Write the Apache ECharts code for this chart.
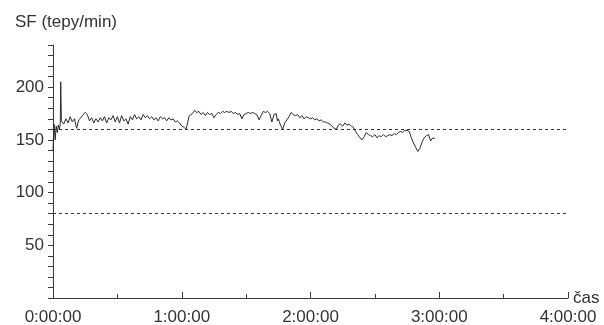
<!DOCTYPE html>
<html>
<head>
<meta charset="utf-8">
<script src="https://cdn.jsdelivr.net/npm/echarts@6/dist/echarts.min.js"></script>
<style>
  html, body { margin: 0; padding: 0; background: #fff; }
  #chart { width: 604px; height: 325px; }
</style>
</head>
<body>
<div id="chart"></div>
<script>
// time in minutes from start, heart rate in beats/min
const minutes = [
  0, 0.5, 1, 1.5, 2, 2.5, 3, 3.4, 3.6, 3.9,
  5, 6, 7, 8, 9, 10, 11, 12, 13, 14, 15, 16, 17, 18, 19, 20,
  21, 22, 23, 24, 25, 26, 27, 28, 29, 30, 31, 32, 33, 34, 35, 36, 37, 38, 39, 40,
  41, 42, 43, 44, 45, 46, 47, 48, 49, 50, 51, 52, 53, 54, 55, 56, 57, 58, 59, 60,
  61, 62, 62.8, 63.5, 64, 65, 66, 67, 68, 69, 70, 71, 72, 73, 74, 75, 76, 77, 78, 79, 80,
  81, 82, 83, 84, 85, 86, 87, 88, 89, 90, 91, 92, 93, 94, 95, 96, 97, 98, 99, 100,
  101, 102, 103, 104, 104.6, 105, 106, 107, 108, 109, 110, 111, 112, 113, 114, 115, 116, 117, 118, 119, 120,
  121, 122, 123, 124, 125, 126, 127, 128, 129, 130, 131, 132, 133, 134, 135, 136, 137, 138, 139, 140,
  141, 142, 143, 144, 145, 146, 147, 148, 149, 150, 151, 152, 153, 154, 155, 156, 157, 158, 159, 160,
  161, 162, 163, 164, 165, 166, 167, 168, 169, 170, 171, 172, 173, 174, 175, 176, 177, 178
]
const heartRate = [
  140, 165, 150, 163, 157, 164, 160, 166, 205, 168,
  165, 170, 166, 172, 167, 170, 161, 169, 171, 174, 176, 174, 168, 171, 166, 170,
  167, 171, 168, 172, 166, 171, 169, 173, 167, 172, 166, 173, 168, 170, 165, 172, 169, 174, 170, 172,
  169, 174, 171, 173, 170, 172, 169, 171, 168, 172, 170, 171, 168, 171, 169, 170, 167, 168, 166, 163,
  162, 160, 159, 173, 172, 175, 178, 176, 177, 174, 176, 173, 176, 174, 175, 171, 174, 176, 175, 177, 176,
  177, 176, 177, 175, 176, 174, 175, 170, 174, 175, 176, 175, 176, 175, 174, 169, 173, 177, 176, 177,
  175, 167, 174, 175, 168, 170, 164, 160, 166, 169, 172, 176, 174, 173, 174, 171, 173, 170, 172, 171, 170,
  171, 169, 170, 168, 169, 167, 167, 166, 165, 163, 161, 160, 164, 165, 163, 166, 164, 165, 163, 162,
  158, 155, 152, 150, 153, 157, 155, 154, 153, 155, 152, 154, 153, 155, 153, 154, 155, 154, 156, 155,
  157, 158, 157, 159, 159, 158, 152, 147, 143, 139, 142, 148, 152, 154, 155, 149, 152, 151
]
const limitLines = [160, 80]
const hourTicks = ['0:00:00', '1:00:00', '2:00:00', '3:00:00', '4:00:00']

const textColor = '#333'
const lineColor = '#3a3a3a'
const chart = echarts.init(document.getElementById('chart'))

chart.setOption({
  backgroundColor: '#fff',
  animation: false,
  title: {
    text: 'SF (tepy/min)',
    left: 10,
    top: 9,
    textStyle: { fontFamily: 'Liberation Sans', fontSize: 17, fontWeight: 'normal', color: textColor }
  },
  grid: { left: 53, right: 36, top: 45, bottom: 27, outerBoundsMode: 'none', containLabel: false },
  xAxis: {
    type: 'value',
    min: 0,
    max: 240,
    interval: 60,
    name: 'čas',
    nameLocation: 'end',
    nameGap: 5,
    nameMoveOverlap: false,
    nameTextStyle: { fontFamily: 'Liberation Sans', fontSize: 17, color: textColor, verticalAlign: 'middle', padding: [4, 0, 0, 0] },
    axisLine: { lineStyle: { color: lineColor, width: 1 } },
    axisTick: { inside: true, length: 6, lineStyle: { color: lineColor } },
    minorTick: { show: true, splitNumber: 2, length: 4, lineStyle: { color: lineColor } },
    splitLine: { show: false },
    axisLabel: {
      margin: 11,
      fontFamily: 'Liberation Sans',
      fontSize: 17,
      color: textColor,
      formatter: v => hourTicks[v / 60]
    }
  },
  yAxis: {
    type: 'value',
    min: 0,
    max: 240,
    interval: 10,
    axisLine: { show: true, lineStyle: { color: lineColor, width: 1 } },
    axisTick: { show: true, length: 5, lineStyle: { color: lineColor } },
    splitLine: { show: false },
    axisLabel: {
      margin: 9,
      fontFamily: 'Liberation Sans',
      fontSize: 17,
      color: textColor,
      formatter: v => (v > 0 && v <= 200 && v % 50 === 0) ? String(v) : ''
    }
  },
  series: [{
    type: 'line',
    data: minutes.map((t, i) => [t, heartRate[i]]),
    showSymbol: false,
    lineStyle: { color: '#2b2b2b', width: 1 },
    markLine: {
      silent: true,
      symbol: 'none',
      label: { show: false },
      lineStyle: { color: '#333', type: [3, 3], width: 1 },
      data: limitLines.map(v => ({ yAxis: v }))
    }
  }]
})
</script>
</body>
</html>
